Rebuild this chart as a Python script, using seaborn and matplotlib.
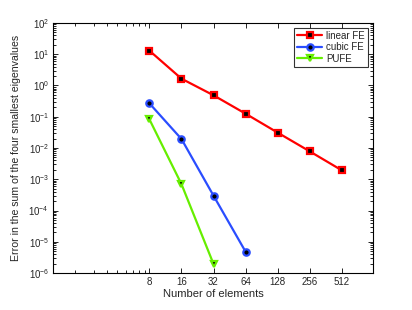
import numpy as np
import pandas as pd
import matplotlib
matplotlib.use('Agg')
import matplotlib.pyplot as plt
import matplotlib.ticker as mticker
import seaborn as sns

# datos
n_elements = [8, 16, 32, 64, 128, 256, 512]
err_linear = [13.0, 1.65, 0.485, 0.125, 0.031, 0.0078, 0.00193]
err_cubic = [0.269, 0.0194, 2.98e-4, 4.8e-6]
err_pufe = [0.083, 7.0e-4, 1.94e-6]
tick_labels = ['8', '16', '32', '64', '128', '256', '512']
y_exponents = list(range(-6, 3))

df = pd.concat([
    pd.DataFrame({'N': n_elements, 'err': err_linear, 'method': 'linear FE'}),
    pd.DataFrame({'N': n_elements[:len(err_cubic)], 'err': err_cubic, 'method': 'cubic FE'}),
    pd.DataFrame({'N': n_elements[:len(err_pufe)], 'err': err_pufe, 'method': 'PUFE'}),
])

sns.set_style('ticks')
plt.rcParams['font.family'] = ['Liberation Sans', 'DejaVu Sans']
plt.rcParams['mathtext.fontset'] = 'custom'
plt.rcParams['mathtext.rm'] = 'Liberation Sans'
plt.rcParams['xtick.direction'] = 'in'
plt.rcParams['ytick.direction'] = 'in'

colors = {'linear FE': '#ff0000', 'cubic FE': '#2a4dff', 'PUFE': '#66ee00'}
markers = {'linear FE': 's', 'cubic FE': 'o', 'PUFE': 'v'}

fig = plt.figure(figsize=(4.12, 3.10), dpi=100)
ax = fig.add_axes([0.129, 0.119, 0.776, 0.807])

for m in ['linear FE', 'cubic FE', 'PUFE']:
    sub = df[df['method'] == m]
    sns.lineplot(data=sub, x='N', y='err', ax=ax, color=colors[m], lw=1.6,
                 marker=markers[m], markersize=4.6, markerfacecolor='k',
                 markeredgecolor=colors[m], markeredgewidth=1.6, label=m)

ax.set_xscale('log')
ax.set_yscale('log')
ax.set_xlim(1, 1000)
ax.set_ylim(1e-6, 1e2)
ax.set_xticks(n_elements)
ax.set_xticklabels(tick_labels)
ax.xaxis.set_minor_locator(mticker.FixedLocator([0.8 * k for k in range(2, 10)]))
ax.xaxis.set_minor_formatter(mticker.NullFormatter())
ax.set_yticks([10.0 ** e for e in y_exponents])
ax.set_yticklabels([r'$10^{%d}$' % e for e in y_exponents])
ax.yaxis.set_minor_locator(mticker.FixedLocator(
    [k * 10.0 ** e for e in y_exponents[:-1] for k in range(2, 10)]))
ax.yaxis.set_minor_formatter(mticker.NullFormatter())

ax.tick_params(which='both', top=True, right=True, labelsize=7, width=0.6, color='k')
ax.tick_params(which='major', length=3.5, pad=3)
ax.tick_params(which='minor', length=2)
for s in ax.spines.values():
    s.set_linewidth(0.8)
    s.set_color('k')

ax.set_xlabel('Number of elements', fontsize=8, labelpad=1)
ax.set_ylabel('Error in the sum of the four smallest eigenvalues', fontsize=7.6, labelpad=5)

leg = ax.legend(loc='upper right', fontsize=7, frameon=True, fancybox=False,
                borderpad=0.3, labelspacing=0.15, handlelength=2.6, handletextpad=0.4,
                borderaxespad=0.5)
leg.get_frame().set_edgecolor('k')
leg.get_frame().set_linewidth(0.8)

fig.savefig('out.png', dpi=100)
